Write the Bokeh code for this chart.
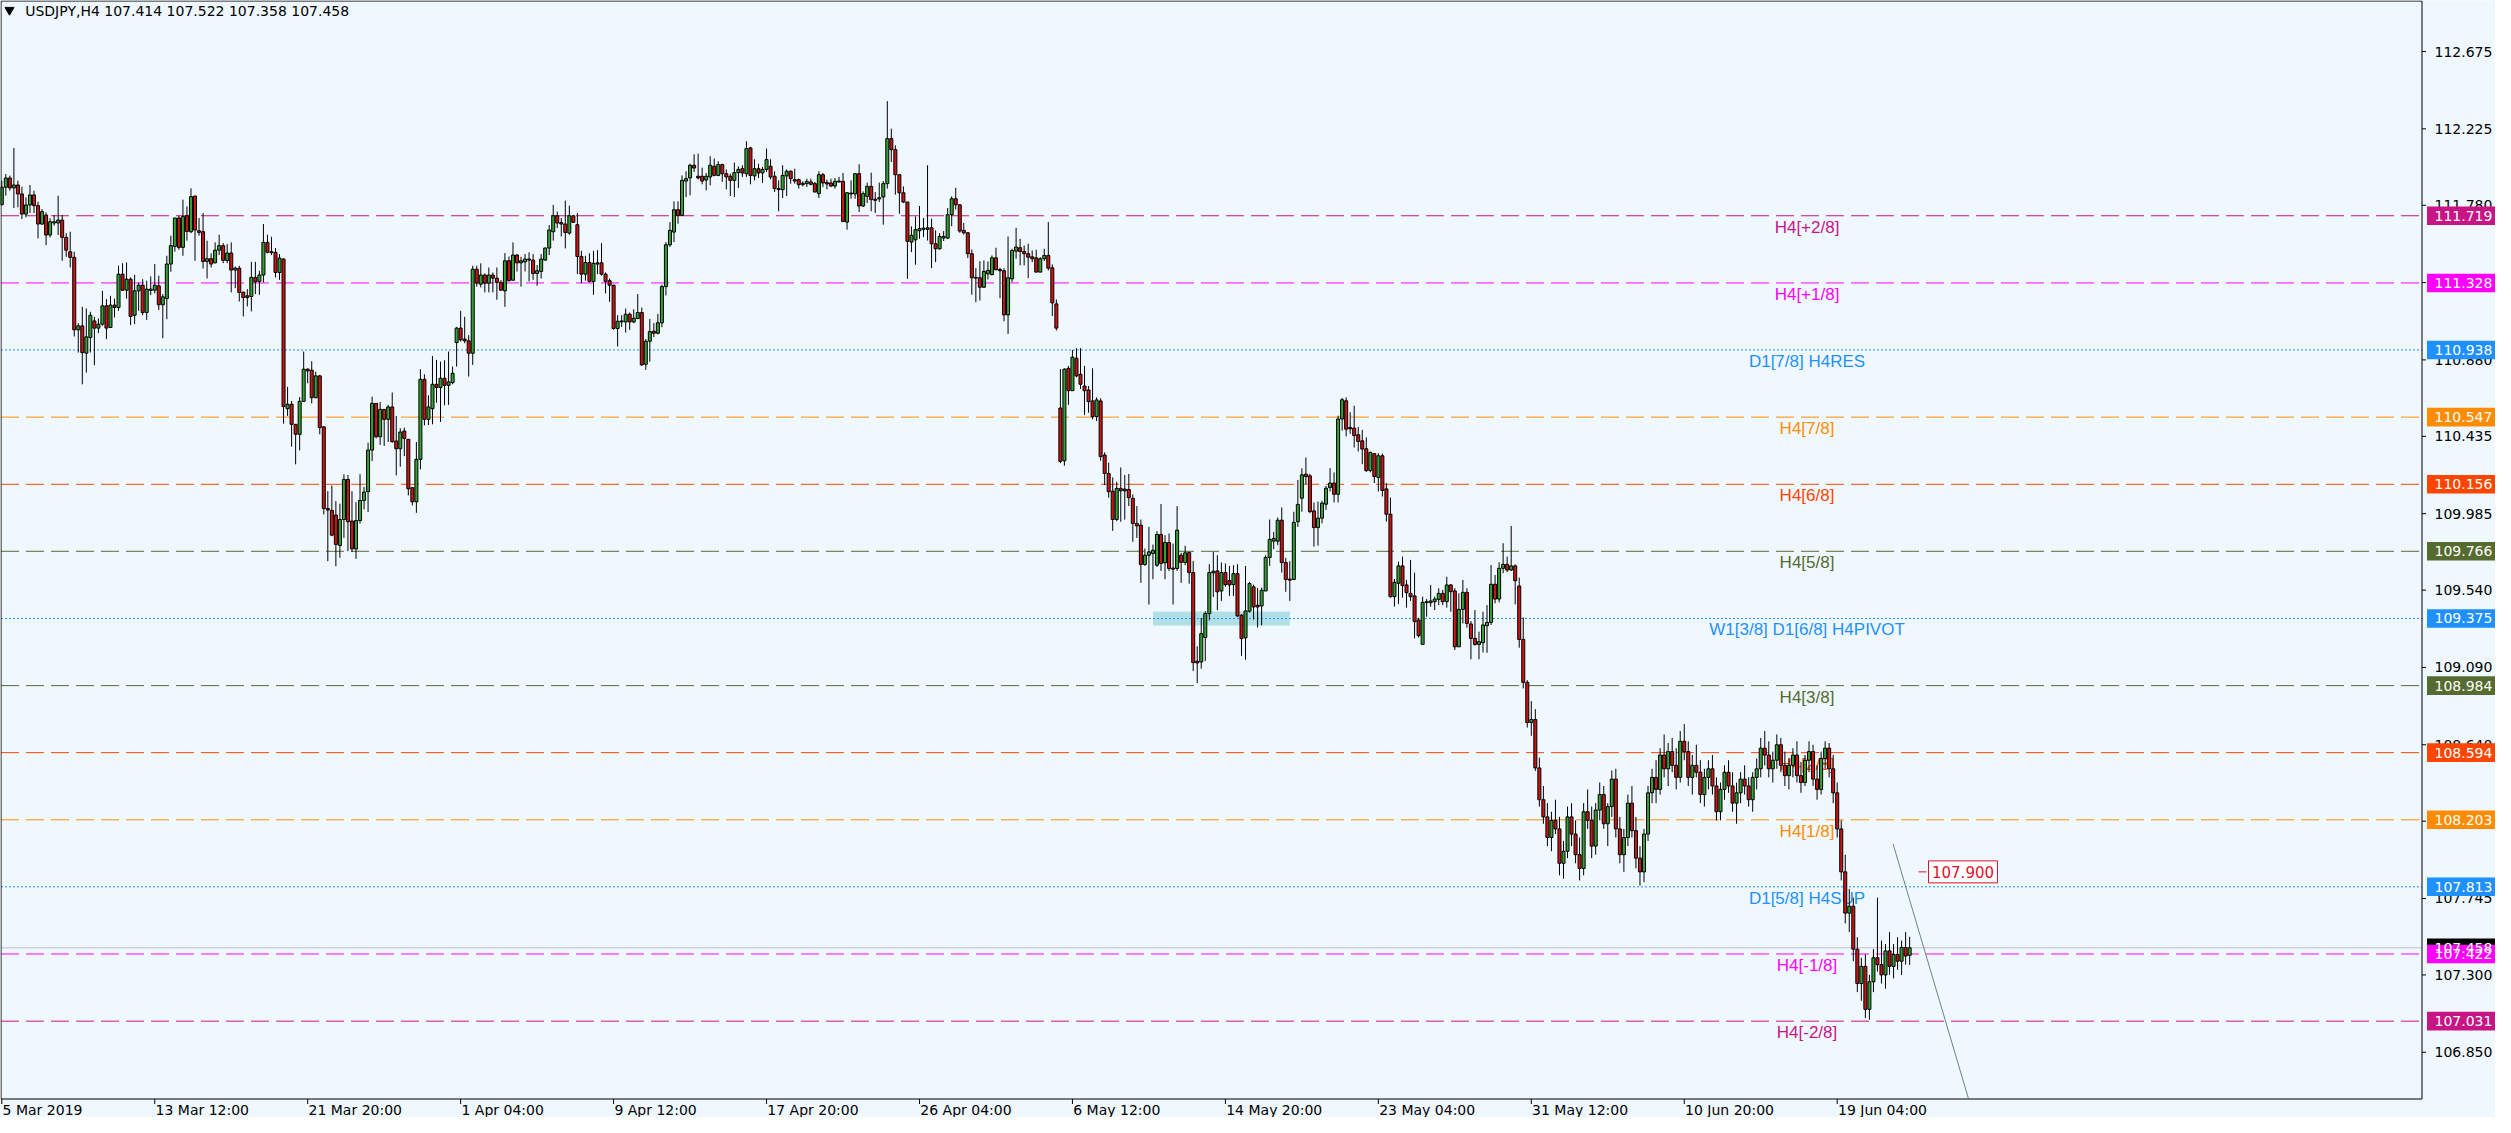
from bokeh.plotting import figure
from bokeh.models import Range1d
from bokeh.embed import file_html
from bokeh.resources import INLINE
from bokeh.core.properties import value

symbol = "USDJPY,H4"

opens = [
111.784,111.885,111.939,111.881,111.898,111.846,111.729,111.782,111.840,111.778,
111.671,111.723,111.607,111.677,111.677,111.694,111.593,111.510,111.477,111.055,
111.078,110.919,111.010,111.107,111.065,111.088,111.195,111.069,111.199,111.185,
111.379,111.286,111.350,111.140,111.282,111.315,111.156,111.284,111.286,111.311,
111.201,111.237,111.438,111.541,111.706,111.535,111.719,111.626,111.834,111.632,
111.626,111.453,111.469,111.445,111.519,111.545,111.459,111.502,111.403,111.414,
111.274,111.253,111.249,111.360,111.337,111.374,111.564,111.510,111.506,111.389,
111.467,110.596,110.622,110.505,110.447,110.639,110.826,110.820,110.660,110.787,
110.490,110.015,110.004,109.977,109.800,109.951,110.184,109.942,109.780,109.945,
110.062,110.113,110.355,110.627,110.433,110.592,110.534,110.606,110.408,110.363,
110.466,110.418,110.136,110.054,110.301,110.767,110.534,110.596,110.738,110.719,
110.773,110.732,110.748,110.981,111.065,111.001,110.991,110.919,111.408,111.321,
111.374,111.327,111.374,111.356,111.331,111.282,111.457,111.344,111.490,111.445,
111.451,111.467,111.461,111.383,111.395,111.461,111.531,111.626,111.719,111.679,
111.671,111.618,111.719,111.667,111.482,111.379,111.447,111.337,111.445,111.445,
111.379,111.341,111.315,111.063,111.101,111.101,111.146,111.101,111.121,111.156,
110.855,110.989,111.047,111.035,111.096,111.307,111.550,111.624,111.754,111.721,
111.921,111.939,112.013,111.949,111.949,111.927,111.945,112.007,111.954,112.017,
111.964,111.949,111.925,111.970,111.993,111.964,112.114,111.951,111.993,111.968,
111.989,112.007,111.949,111.877,111.871,111.951,111.978,111.929,111.929,111.900,
111.906,111.916,111.906,111.848,111.958,111.912,111.910,111.892,111.916,111.919,
111.682,111.846,111.846,111.964,111.776,111.832,111.890,111.815,111.817,111.828,
111.906,112.168,112.104,111.958,111.853,111.799,111.566,111.579,111.632,111.640,
111.640,111.649,111.556,111.527,111.589,111.589,111.725,111.818,111.783,111.634,
111.620,111.498,111.360,111.358,111.303,111.381,111.377,111.474,111.406,111.399,
111.142,111.352,111.513,111.533,111.511,111.498,111.480,111.474,111.391,111.469,
111.488,111.416,111.206,110.600,110.293,110.831,110.701,110.890,110.796,110.728,
110.705,110.641,110.550,110.641,110.326,110.219,110.116,109.951,110.132,110.128,
110.126,110.074,109.928,109.918,109.689,109.743,109.753,109.685,109.864,109.699,
109.817,109.668,109.666,109.743,109.701,109.759,109.642,109.126,109.122,109.264,
109.403,109.640,109.652,109.535,109.642,109.596,109.572,109.636,109.394,109.262,
109.417,109.559,109.452,109.448,109.535,109.730,109.825,109.825,109.947,109.701,
109.604,109.602,109.938,110.075,110.215,110.205,110.001,109.904,109.959,110.040,
110.137,110.163,110.098,110.536,110.642,110.487,110.483,110.444,110.409,110.363,
110.236,110.334,110.196,110.322,110.129,109.982,109.502,109.580,109.681,109.570,
109.521,109.506,109.366,109.224,109.467,109.467,109.473,109.486,109.521,109.473,
109.570,109.535,109.210,109.428,109.527,109.343,109.259,109.224,109.234,109.333,
109.352,109.574,109.488,109.667,109.690,109.657,109.681,109.564,109.253,109.003,
108.769,108.787,108.505,108.320,108.220,108.100,108.200,108.150,107.950,108.020,
108.220,108.120,108.000,107.920,108.250,108.200,108.050,108.260,108.350,108.180,
108.280,108.440,108.150,108.000,108.100,108.300,108.140,107.980,107.900,108.120,
108.360,108.450,108.380,108.580,108.500,108.600,108.520,108.450,108.660,108.600,
108.450,108.520,108.480,108.350,108.450,108.500,108.400,108.250,108.380,108.480,
108.400,108.300,108.360,108.440,108.400,108.320,108.450,108.500,108.620,108.580,
108.500,108.550,108.640,108.520,108.460,108.520,108.580,108.460,108.420,108.550,
108.600,108.440,108.380,108.560,108.620,108.500,108.360,108.150,107.900,107.660,
107.700,107.450,107.250,107.350,107.100,107.260,107.400,107.360,107.300,107.440,
107.350,107.420,107.380,107.460,107.414]

highs = [
111.923,111.962,111.953,112.114,111.923,111.888,111.826,111.898,111.865,111.801,
111.758,111.739,111.704,111.723,111.836,111.723,111.618,111.626,111.510,111.094,
111.189,111.179,111.160,111.131,111.121,111.282,111.234,111.253,111.237,111.428,
111.443,111.447,111.360,111.375,111.331,111.350,111.341,111.366,111.438,111.370,
111.263,111.486,111.603,111.706,111.719,111.813,111.774,111.879,111.834,111.706,
111.735,111.574,111.500,111.564,111.609,111.560,111.554,111.564,111.424,111.428,
111.278,111.292,111.451,111.451,111.399,111.671,111.609,111.597,111.531,111.496,
111.471,110.723,110.641,110.505,110.664,110.929,110.831,110.872,110.812,110.793,
110.495,110.116,110.149,110.058,110.043,110.214,110.210,110.116,110.052,110.214,
110.140,110.398,110.666,110.627,110.635,110.592,110.618,110.690,110.554,110.482,
110.486,110.418,110.140,110.402,110.826,110.796,110.674,110.903,110.880,110.870,
110.878,110.929,110.841,111.072,111.166,111.131,111.024,111.428,111.428,111.442,
111.383,111.418,111.389,111.418,111.344,111.502,111.482,111.564,111.496,111.480,
111.496,111.506,111.496,111.432,111.496,111.535,111.665,111.782,111.743,111.706,
111.807,111.778,111.723,111.735,111.515,111.486,111.500,111.515,111.519,111.560,
111.389,111.354,111.317,111.140,111.140,111.179,111.156,111.175,111.263,111.185,
111.001,111.118,111.094,111.148,111.317,111.566,111.682,111.803,111.803,111.954,
111.978,112.022,112.077,112.081,111.999,111.968,112.065,112.052,112.036,112.022,
111.989,111.964,112.028,112.007,112.013,112.153,112.120,112.048,112.022,112.003,
112.110,112.048,111.978,111.925,112.013,111.989,111.984,111.993,111.935,111.919,
111.935,111.935,111.916,111.978,111.968,111.929,111.935,111.939,111.945,111.968,
111.857,111.925,111.964,112.019,111.861,111.912,111.970,111.857,111.912,111.921,
112.386,112.226,112.129,111.958,111.890,111.799,111.657,111.715,111.776,111.706,
112.013,111.702,111.634,111.618,111.630,111.764,111.832,111.882,111.783,111.677,
111.624,111.523,111.414,111.455,111.459,111.453,111.488,111.533,111.416,111.414,
111.599,111.527,111.649,111.585,111.546,111.556,111.517,111.521,111.478,111.527,
111.682,111.436,111.232,110.827,110.831,110.845,110.938,110.948,110.948,110.845,
110.728,110.831,110.662,110.657,110.342,110.282,110.196,110.171,110.254,110.210,
110.216,110.097,110.029,109.951,109.782,109.908,109.805,109.883,110.041,109.860,
109.870,109.811,110.029,109.757,109.798,109.763,109.710,109.213,109.378,109.417,
109.691,109.763,109.743,109.701,109.695,109.681,109.685,109.691,109.399,109.681,
109.588,109.572,109.553,109.555,109.743,109.951,109.879,109.963,110.021,109.728,
109.708,109.996,110.181,110.249,110.312,110.217,110.050,110.056,110.060,110.147,
110.250,110.225,110.555,110.658,110.662,110.576,110.613,110.489,110.473,110.429,
110.347,110.337,110.337,110.334,110.163,110.079,109.605,109.706,109.735,109.599,
109.716,109.642,109.379,109.502,109.488,109.570,109.502,109.551,109.541,109.618,
109.576,109.551,109.521,109.599,109.551,109.360,109.424,109.298,109.414,109.453,
109.686,109.628,109.702,109.813,109.735,109.914,109.690,109.613,109.381,109.016,
108.894,108.847,108.565,108.400,108.300,108.250,108.320,108.220,108.080,108.280,
108.300,108.200,108.100,108.300,108.380,108.280,108.300,108.420,108.400,108.300,
108.490,108.500,108.220,108.150,108.350,108.400,108.220,108.050,108.150,108.400,
108.500,108.550,108.620,108.700,108.650,108.680,108.620,108.720,108.760,108.660,
108.580,108.640,108.550,108.500,108.550,108.580,108.450,108.420,108.520,108.550,
108.480,108.420,108.480,108.520,108.450,108.480,108.560,108.680,108.720,108.660,
108.600,108.700,108.680,108.600,108.560,108.620,108.660,108.540,108.580,108.660,
108.640,108.520,108.600,108.660,108.650,108.580,108.420,108.200,108.000,107.800,
107.750,107.520,107.400,107.420,107.300,107.450,107.750,107.500,107.480,107.550,
107.480,107.520,107.500,107.550,107.522]

lows = [
111.778,111.836,111.865,111.764,111.768,111.700,111.710,111.735,111.735,111.587,
111.665,111.548,111.593,111.661,111.607,111.457,111.480,111.418,111.016,110.923,
110.738,110.806,110.923,110.849,111.036,111.078,111.001,111.069,111.127,111.166,
111.282,111.237,111.082,111.088,111.166,111.140,111.113,111.257,111.267,111.170,
111.006,111.117,111.393,111.510,111.521,111.486,111.574,111.618,111.457,111.603,
111.412,111.354,111.418,111.442,111.490,111.443,111.443,111.273,111.298,111.220,
111.133,111.191,111.162,111.263,111.259,111.331,111.500,111.490,111.360,111.346,
110.509,110.554,110.375,110.272,110.353,110.635,110.744,110.627,110.657,110.447,
109.980,109.708,109.854,109.679,109.728,109.844,109.767,109.761,109.722,109.928,
110.010,109.994,110.291,110.423,110.385,110.379,110.402,110.398,110.208,110.258,
110.320,110.091,110.033,109.990,110.243,110.499,110.501,110.505,110.631,110.519,
110.616,110.618,110.738,110.841,110.987,110.977,110.783,110.851,111.307,111.302,
111.273,111.273,111.273,111.230,111.282,111.189,111.337,111.341,111.395,111.307,
111.395,111.337,111.346,111.311,111.354,111.457,111.490,111.574,111.647,111.599,
111.529,111.609,111.677,111.379,111.327,111.341,111.331,111.259,111.379,111.370,
111.267,111.218,111.055,110.958,111.072,111.039,111.055,111.094,111.117,110.845,
110.822,110.869,111.012,111.028,111.070,111.255,111.537,111.566,111.673,111.721,
111.828,111.838,111.974,111.931,111.902,111.867,111.896,111.949,111.949,111.916,
111.873,111.834,111.828,111.881,111.945,111.945,111.902,111.925,111.939,111.910,
111.974,111.931,111.857,111.745,111.822,111.834,111.906,111.906,111.877,111.890,
111.886,111.896,111.857,111.822,111.886,111.873,111.886,111.877,111.912,111.682,
111.638,111.818,111.818,111.741,111.770,111.793,111.745,111.735,111.799,111.667,
111.877,112.032,111.842,111.731,111.793,111.352,111.507,111.434,111.585,111.595,
111.575,111.414,111.449,111.521,111.572,111.585,111.659,111.756,111.620,111.609,
111.473,111.259,111.216,111.226,111.298,111.348,111.371,111.401,111.239,111.105,
111.031,111.333,111.469,111.430,111.430,111.356,111.449,111.391,111.391,111.455,
111.401,111.135,111.051,110.279,110.264,110.618,110.701,110.779,110.711,110.559,
110.573,110.534,110.524,110.293,110.151,110.078,109.885,109.941,109.938,109.951,
110.029,109.821,109.844,109.582,109.681,109.456,109.603,109.675,109.652,109.603,
109.652,109.456,109.652,109.582,109.685,109.578,109.069,108.999,109.083,109.127,
109.364,109.500,109.423,109.477,109.559,109.506,109.506,109.384,109.157,109.135,
109.409,109.368,109.322,109.335,109.535,109.681,109.778,109.802,109.642,109.530,
109.477,109.598,109.908,109.996,110.157,109.988,109.793,109.799,109.929,110.007,
110.114,110.050,110.050,110.468,110.435,110.450,110.370,110.347,110.273,110.227,
110.225,110.163,110.114,110.085,109.939,109.496,109.444,109.459,109.496,109.438,
109.477,109.259,109.265,109.224,109.385,109.444,109.424,109.453,109.453,109.438,
109.414,109.191,109.210,109.346,109.321,109.137,109.216,109.137,109.177,109.175,
109.337,109.463,109.469,109.638,109.644,109.651,109.457,109.205,108.968,108.740,
108.692,108.488,108.280,108.180,108.050,108.020,108.120,107.880,107.860,107.980,
108.050,107.950,107.850,107.880,108.150,107.980,108.000,108.200,108.150,108.050,
108.220,108.100,107.950,107.900,108.050,108.100,107.920,107.820,107.840,108.080,
108.300,108.300,108.350,108.450,108.400,108.480,108.380,108.420,108.550,108.400,
108.350,108.450,108.300,108.280,108.380,108.350,108.200,108.200,108.320,108.360,
108.250,108.180,108.300,108.350,108.280,108.250,108.380,108.450,108.520,108.450,
108.420,108.500,108.480,108.400,108.380,108.450,108.420,108.360,108.400,108.480,
108.400,108.320,108.350,108.500,108.450,108.300,108.100,107.850,107.600,107.550,
107.380,107.200,107.150,107.050,107.040,107.200,107.320,107.250,107.220,107.300,
107.280,107.330,107.300,107.360,107.358]

closes = [
111.885,111.939,111.881,111.898,111.846,111.729,111.782,111.840,111.778,111.671,
111.743,111.607,111.684,111.684,111.694,111.593,111.519,111.477,111.055,111.078,
110.923,111.014,111.140,111.065,111.088,111.195,111.065,111.199,111.185,111.379,
111.286,111.350,111.133,111.282,111.315,111.156,111.292,111.292,111.315,111.201,
111.247,111.438,111.545,111.706,111.535,111.714,111.628,111.830,111.636,111.622,
111.453,111.469,111.438,111.519,111.545,111.459,111.502,111.403,111.414,111.273,
111.243,111.243,111.360,111.335,111.374,111.564,111.506,111.504,111.389,111.473,
110.608,110.622,110.505,110.447,110.639,110.826,110.816,110.660,110.787,110.486,
110.015,110.006,109.860,109.806,109.951,110.184,109.938,109.780,109.945,110.062,
110.111,110.355,110.627,110.433,110.592,110.534,110.606,110.404,110.363,110.460,
110.423,110.130,110.054,110.301,110.767,110.534,110.606,110.738,110.719,110.773,
110.732,110.752,110.802,111.065,110.997,110.991,110.919,111.408,111.327,111.374,
111.327,111.374,111.356,111.331,111.286,111.457,111.341,111.490,111.445,111.457,
111.467,111.461,111.383,111.399,111.467,111.531,111.636,111.719,111.677,111.671,
111.622,111.719,111.681,111.482,111.379,111.447,111.337,111.442,111.438,111.379,
111.337,111.315,111.063,111.105,111.107,111.146,111.101,111.123,111.156,110.851,
110.989,111.045,111.035,111.096,111.307,111.550,111.634,111.754,111.721,111.925,
111.935,112.013,111.997,111.939,111.921,111.949,112.013,111.954,112.017,111.964,
111.945,111.925,111.970,111.989,111.968,112.110,111.954,111.993,111.968,111.989,
112.046,111.945,111.877,111.871,111.954,111.978,111.935,111.921,111.900,111.908,
111.919,111.902,111.857,111.958,111.910,111.904,111.892,111.919,111.921,111.686,
111.853,111.851,111.964,111.776,111.848,111.890,111.813,111.809,111.824,111.906,
112.168,112.104,111.958,111.853,111.799,111.570,111.605,111.638,111.644,111.647,
111.649,111.556,111.527,111.599,111.599,111.725,111.818,111.783,111.630,111.620,
111.498,111.358,111.356,111.303,111.395,111.401,111.474,111.405,111.399,111.142,
111.358,111.517,111.537,111.511,111.498,111.478,111.469,111.391,111.469,111.488,
111.414,111.212,111.065,110.289,110.826,110.701,110.896,110.787,110.738,110.701,
110.637,110.550,110.647,110.317,110.219,110.113,109.951,110.132,110.118,110.118,
110.078,109.928,109.914,109.689,109.743,109.763,109.772,109.864,109.695,109.817,
109.666,109.662,109.889,109.701,109.757,109.642,109.118,109.116,109.287,109.403,
109.642,109.650,109.530,109.642,109.572,109.570,109.636,109.390,109.258,109.419,
109.578,109.442,109.442,109.539,109.730,109.835,109.841,109.947,109.701,109.602,
109.598,109.934,110.039,110.211,110.201,109.997,109.904,109.959,110.046,110.133,
110.163,110.098,110.536,110.648,110.477,110.479,110.440,110.405,110.361,110.236,
110.341,110.201,110.322,110.120,109.982,109.502,109.585,109.681,109.566,109.525,
109.502,109.356,109.275,109.469,109.473,109.477,109.488,109.521,109.473,109.570,
109.531,109.210,109.428,109.527,109.346,109.259,109.224,109.240,109.337,109.352,
109.574,109.488,109.667,109.690,109.657,109.681,109.595,109.253,109.003,108.769,
108.787,108.505,108.320,108.220,108.100,108.200,108.150,107.950,108.020,108.220,
108.120,108.000,107.920,108.250,108.200,108.050,108.260,108.350,108.180,108.280,
108.440,108.150,108.000,108.100,108.300,108.140,107.980,107.900,108.120,108.360,
108.450,108.380,108.580,108.500,108.600,108.520,108.450,108.660,108.600,108.450,
108.520,108.480,108.350,108.450,108.500,108.400,108.250,108.380,108.480,108.400,
108.300,108.360,108.440,108.400,108.320,108.450,108.500,108.620,108.580,108.500,
108.550,108.640,108.520,108.460,108.520,108.580,108.460,108.420,108.550,108.600,
108.440,108.380,108.560,108.620,108.500,108.360,108.150,107.900,107.660,107.700,
107.450,107.250,107.350,107.100,107.260,107.400,107.360,107.300,107.440,107.350,
107.420,107.380,107.460,107.410,107.458]

x_tick_bars = [0, 38, 76, 114, 152, 190, 228, 266, 304, 342, 380, 418, 456]
x_tick_labels = ["5 Mar 2019", "13 Mar 12:00", "21 Mar 20:00", "1 Apr 04:00",
                 "9 Apr 12:00", "17 Apr 20:00", "26 Apr 04:00", "6 May 12:00",
                 "14 May 20:00", "23 May 04:00", "31 May 12:00", "10 Jun 20:00",
                 "19 Jun 04:00"]
y_ticks = [112.675, 112.225, 111.780, 111.330, 110.880, 110.435, 109.985,
           109.540, 109.090, 108.640, 108.195, 107.745, 107.300, 106.850]

level_prices = [111.719, 111.328, 110.938, 110.547, 110.156, 109.766, 109.375,
                108.984, 108.594, 108.203, 107.813, 107.422, 107.031]
level_names = ["H4[+2/8]", "H4[+1/8]", "D1[7/8] H4RES", "H4[7/8]", "H4[6/8]",
               "H4[5/8]", "W1[3/8] D1[6/8] H4PIVOT", "H4[3/8]", "H4[2/8]",
               "H4[1/8]", "D1[5/8] H4SUP", "H4[-1/8]", "H4[-2/8]"]
level_colors = ["#C71585", "#FF00FF", "#1E90FF", "#FF8C00", "#FF4500", "#556B2F",
                "#1E90FF", "#556B2F", "#FF4500", "#FF8C00", "#1E90FF", "#FF00FF",
                "#C71585"]
level_kind = ["dash", "dash", "dot", "dash", "dash", "dash", "dot", "dash",
              "dash", "dash", "dot", "dash", "dash"]

last_price = 107.458
alert_price = 107.900
zone_bars = [286, 320]
zone_prices = [109.334, 109.415]
trend_bars = [469.9, 488.6]
trend_prices = [108.061, 106.581]

# ---------------------------------------------------------------- layout
W, H = 2495, 1117                 # figure size in px
PX_PER_BAR, BAR0_PX = 4.025, 1.3  # bar i is drawn at px BAR0_PX + PX_PER_BAR*i
PX_PER_UNIT, TOP_PRICE = 171.8, 112.972


def bx(px):      # horizontal pixel -> bar coordinate
    return (px - BAR0_PX) / PX_PER_BAR


def py(px):      # vertical pixel (from top) -> price coordinate
    return TOP_PRICE - px / PX_PER_UNIT


BG = "#F0F8FF"
UP = "#33A133"
DN = "#CC1414"
ALERT = "#E0102A"
FONT = value("DejaVu Sans")

chart_l, chart_r = bx(0.5), bx(2421.5)
chart_t, chart_b = py(0.5), py(1098.5)
label_x = bx(2434.0)

p = figure(width=W, height=H, output_backend="svg", toolbar_location=None,
           x_range=Range1d(bx(0), bx(W)), y_range=Range1d(py(H), py(0)),
           x_axis_location=None, y_axis_location=None, min_border=0)
p.background_fill_color = BG
p.border_fill_color = BG
p.outline_line_color = None
p.grid.visible = False

# zone rectangle
p.quad(left=[zone_bars[0]], right=[zone_bars[1]], bottom=[zone_prices[0]],
       top=[zone_prices[1]], fill_color="#B0E0E6", line_color=None)

# level lines
dash_i = [i for i, k in enumerate(level_kind) if k == "dash"]
dot_i = [i for i, k in enumerate(level_kind) if k == "dot"]
p.segment(x0=[chart_l] * len(dash_i), x1=[chart_r] * len(dash_i),
          y0=[level_prices[i] for i in dash_i], y1=[level_prices[i] for i in dash_i],
          line_color=[level_colors[i] for i in dash_i], line_width=1, line_dash="18 7")
p.segment(x0=[chart_l] * len(dot_i), x1=[chart_r] * len(dot_i),
          y0=[level_prices[i] for i in dot_i], y1=[level_prices[i] for i in dot_i],
          line_color=[level_colors[i] for i in dot_i], line_width=1, line_dash="2 2")
p.segment(x0=[chart_l], x1=[chart_r], y0=[last_price], y1=[last_price],
          line_color="#C0C0C0", line_width=1)

# level names
p.text(x=[448.5] * len(level_prices), y=[v - 11.5 / PX_PER_UNIT for v in level_prices],
       text=level_names, text_color=level_colors, text_align="center",
       text_baseline="middle", text_font=value("Liberation Sans"),
       text_font_size="17px")

# candles
n = min(len(opens), len(highs), len(lows), len(closes))
xs = list(range(n))
p.segment(x0=xs, y0=lows[:n], x1=xs, y1=highs[:n], line_color="black", line_width=1)
ui = [i for i in xs if closes[i] >= opens[i]]
di = [i for i in xs if closes[i] < opens[i]]
p.vbar(x=ui, width=0.75, top=[closes[i] for i in ui], bottom=[opens[i] for i in ui],
       fill_color=UP, line_color="black", line_width=1)
p.vbar(x=di, width=0.75, top=[opens[i] for i in di], bottom=[closes[i] for i in di],
       fill_color=DN, line_color="black", line_width=1)

# trend line
p.line(trend_bars, trend_prices, line_color="#6E7F90", line_width=1)

# alert price marker
p.segment(x0=[bx(1918)], y0=[alert_price], x1=[bx(1926)], y1=[alert_price],
          line_color=ALERT, line_width=1)
p.quad(left=[bx(1928)], right=[bx(1997)], top=[alert_price + 11 / PX_PER_UNIT],
       bottom=[alert_price - 11 / PX_PER_UNIT], fill_color="white", line_color=ALERT)
p.text(x=[bx(1962.5)], y=[alert_price], text=[f"{alert_price:.3f}"], text_color=ALERT,
       text_font=FONT, text_font_size="15px", text_align="center",
       text_baseline="middle")

# chart frame
p.line([chart_l, chart_r, chart_r, chart_l, chart_l],
       [chart_t, chart_t, chart_b, chart_b, chart_t], line_color="black", line_width=1)

# price scale (right)
p.segment(x0=[chart_r] * len(y_ticks), x1=[bx(2425.5)] * len(y_ticks),
          y0=y_ticks, y1=y_ticks, line_color="black", line_width=1)
p.text(x=[label_x] * len(y_ticks), y=y_ticks, text=[f"{t:.3f}" for t in y_ticks],
       text_color="black", text_font=FONT, text_font_size="14px",
       text_align="left", text_baseline="middle")

# price boxes: current price first, level boxes on top of it
box_prices = [last_price] + level_prices
box_colors = ["black"] + level_colors
half = 9.3 / PX_PER_UNIT
p.quad(left=[bx(2426.5)] * len(box_prices), right=[bx(W)] * len(box_prices),
       top=[v + half for v in box_prices], bottom=[v - half for v in box_prices],
       fill_color=box_colors, line_color=None)
p.text(x=[label_x] * len(box_prices), y=box_prices,
       text=[f"{v:.3f}" for v in box_prices], text_color="white", text_font=FONT,
       text_font_size="14px", text_align="left", text_baseline="middle")

# time scale (bottom)
p.segment(x0=x_tick_bars, x1=x_tick_bars, y0=[chart_b] * len(x_tick_bars),
          y1=[py(1103.5)] * len(x_tick_bars), line_color="black", line_width=1)
p.text(x=[b + 0.2 for b in x_tick_bars], y=[py(1101.5)] * len(x_tick_bars),
       text=x_tick_labels, text_color="black", text_font=FONT,
       text_font_size="14px", text_align="left", text_baseline="top")

# header
p.scatter(x=[bx(9)], y=[py(9.5)], marker="inverted_triangle", size=9, color="black")
header = f"{symbol}  {opens[n-1]:.3f} {highs[n-1]:.3f} {lows[n-1]:.3f} {closes[n-1]:.3f}"
p.text(x=[bx(24.7)], y=[py(10)], text=[header], text_color="black", text_font=FONT,
       text_font_size="14px", text_align="left", text_baseline="middle")

open("out.html", "w").write(file_html(p, INLINE))
